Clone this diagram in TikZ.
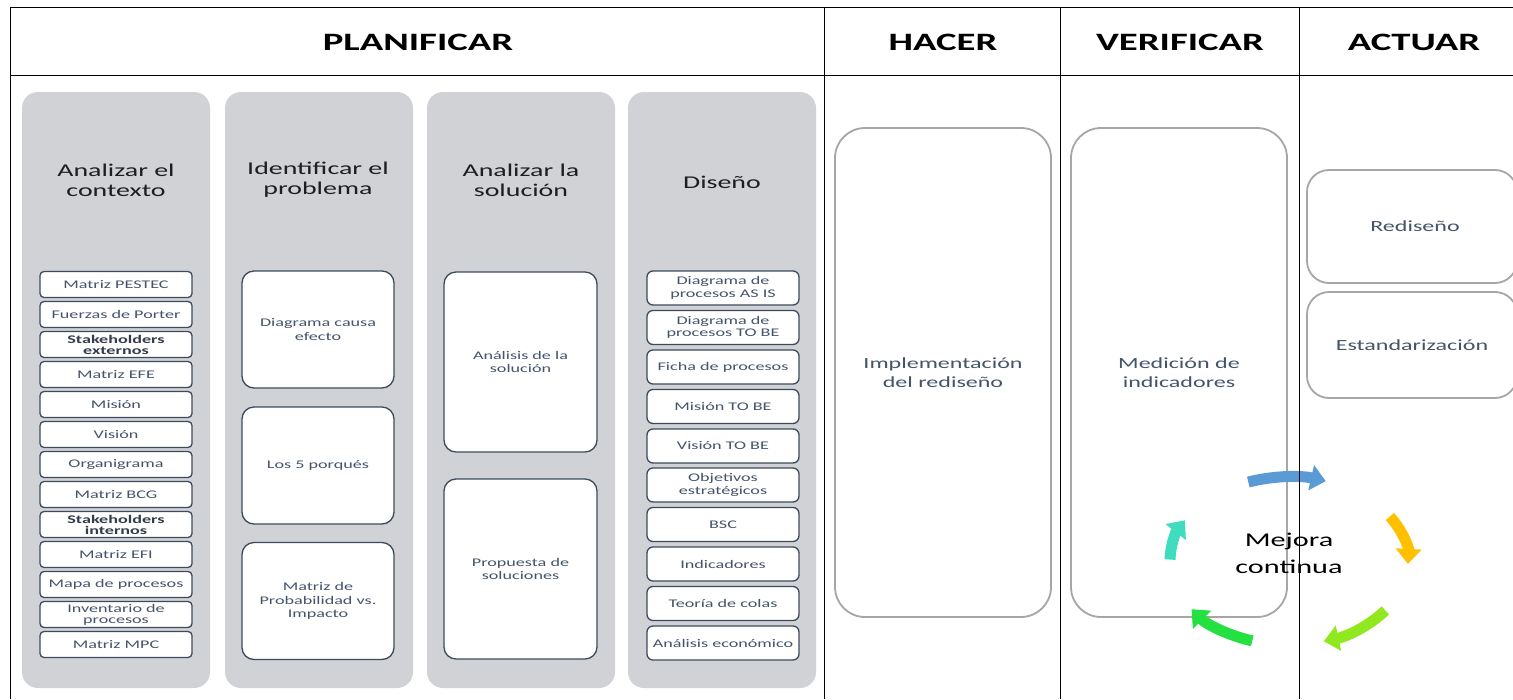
\documentclass[tikz,border=0pt]{standalone}
\usepackage{fontspec}
\setmainfont{Carlito}
\newfontfamily\cf[FakeStretch=1.55]{Carlito}
\usetikzlibrary{arrows.meta}
\definecolor{colgray}{RGB}{208,210,214}
\definecolor{itemline}{RGB}{62,74,92}
\definecolor{itemtext}{RGB}{68,84,106}
\definecolor{itembold}{RGB}{50,60,75}
\definecolor{boxgray}{RGB}{166,166,166}
\definecolor{titletext}{RGB}{30,30,30}
\definecolor{arrBlue}{RGB}{91,155,213}
\definecolor{arrOrange}{RGB}{255,192,0}
\definecolor{arrLime}{RGB}{146,232,30}
\definecolor{arrGreen}{RGB}{36,224,64}
\definecolor{arrTeal}{RGB}{64,220,192}
\tikzset{
  framel/.style={draw=black,line width=1.6pt},
  headtxt/.style={font=\cf\bfseries\fontsize{25}{28}\selectfont,text=black,inner sep=0},
  graycol/.style={fill=colgray,rounded corners=16pt,minimum width=188pt,minimum height=596pt,inner sep=0},
  coltitle/.style={font=\cf\fontsize{18}{20}\selectfont,text=titletext,align=center,inner sep=0},
  itembox/.style={draw=itemline,line width=1.3pt,fill=white,rounded corners=4pt,minimum width=152pt,minimum height=26pt,inner sep=0,align=center,text=itemtext,font=\cf\fontsize{11.7}{12}\selectfont},
  itembold/.style={itembox,text=itembold,font=\cf\bfseries\fontsize{11.7}{11}\selectfont},
  dsbox/.style={itembox,rounded corners=6pt,minimum height=34pt,font=\cf\fontsize{11.7}{12.5}\selectfont},
  bigbox/.style={draw=itemline,line width=1.3pt,fill=white,rounded corners=12pt,minimum width=152pt,inner sep=0,align=center,text=itemtext,font=\cf\fontsize{11.7}{13.3}\selectfont},
  rbox/.style={draw=boxgray,line width=1.8pt,fill=white,rounded corners=30pt,inner sep=0,align=center,text=itemtext,font=\cf\fontsize{15.5}{19}\selectfont},
  cycarrow/.style={line width=11pt,-{Triangle[width=25pt,length=15pt]}},
}
\begin{document}
\begin{tikzpicture}[x=1pt,y=-1pt]
\useasboundingbox (0,0) rectangle (1513,699);
\clip (0,0) rectangle (1513,699);
\fill[white] (0,0) rectangle (1513,699);

% gray columns
\node[graycol] (c1) at (116,390) {};
\node[graycol] (c2) at (319,390) {};
\node[graycol] (c3) at (521,390) {};
\node[graycol] (c4) at (722,390) {};

% column titles
\node[coltitle] (t1) at (116,180) {Analizar el\\contexto};
\node[coltitle] (t2) at (318,180) {Identificar el\\problema};
\node[coltitle] (t3) at (521,180) {Analizar la\\solución};
\node[coltitle] (t4) at (722,182) {Diseño};

% column 1 items
\node[itembox]  (a1)  at (116,284.5) {Matriz PESTEC};
\node[itembox]  (a2)  at (116,314.5) {Fuerzas de Porter};
\node[itembold] (a3)  at (116,344.5) {Stakeholders\\externos};
\node[itembox]  (a4)  at (116,374.5) {Matriz EFE};
\node[itembox]  (a5)  at (116,404.5) {Misión};
\node[itembox]  (a6)  at (116,434.5) {Visión};
\node[itembox]  (a7)  at (116,464.5) {Organigrama};
\node[itembox]  (a8)  at (116,494.5) {Matriz BCG};
\node[itembold] (a9)  at (116,524.5) {Stakeholders\\internos};
\node[itembox]  (a10) at (116,554.5) {Matriz EFI};
\node[itembox]  (a11) at (116,584.5) {Mapa de procesos};
\node[itembox,font=\cf\fontsize{11.7}{11}\selectfont] (a12) at (116,614.5) {Inventario de\\procesos};
\node[itembox]  (a13) at (116,644.5) {Matriz MPC};

% column 2 boxes
\node[bigbox,minimum height=117pt] (b1) at (318,329.5) {Diagrama causa\\efecto};
\node[bigbox,minimum height=117pt] (b2) at (318,465.5) {Los 5 porqués};
\node[bigbox,minimum height=117pt] (b3) at (318,601) {Matriz de\\Probabilidad vs.\\Impacto};

% column 3 boxes
\node[bigbox,minimum height=180pt,minimum width=153pt] (s1) at (520.5,362) {Análisis de la\\solución};
\node[bigbox,minimum height=180pt,minimum width=153pt] (s2) at (520.5,569) {Propuesta de\\soluciones};

% column 4 items
\node[dsbox] (d1)  at (723,288)   {Diagrama de\\procesos AS IS};
\node[dsbox] (d2)  at (723,327.5) {Diagrama de\\procesos TO BE};
\node[dsbox] (d3)  at (723,367)   {Ficha de procesos};
\node[dsbox] (d4)  at (723,406.5) {Misión TO BE};
\node[dsbox] (d5)  at (723,446)   {Visión TO BE};
\node[dsbox] (d6)  at (723,485)   {Objetivos\\estratégicos};
\node[dsbox] (d7)  at (723,524.5) {BSC};
\node[dsbox] (d8)  at (723,564)   {Indicadores};
\node[dsbox] (d9)  at (723,603.5) {Teoría de colas};
\node[dsbox] (d10) at (723,643)   {Análisis económico};

% right side boxes
\node[rbox,minimum width=216pt,minimum height=489pt] (h1) at (943,372.5) {Implementación\\del rediseño};
\node[rbox,minimum width=216pt,minimum height=489pt] (v1) at (1179,372.5) {Medición de\\indicadores};
\node[rbox,minimum width=210pt,minimum height=113pt,rounded corners=22pt] (r1) at (1412,226.5) {\hspace*{6pt}Rediseño};
\node[rbox,minimum width=210pt,minimum height=106pt,rounded corners=22pt] (r2) at (1412,345) {Estandarización};

% improvement cycle
\coordinate (cyc) at (1289,561);
\draw[cycarrow,arrBlue]   (cyc) ++(-110:119 and 84) arc[start angle=-110,end angle=-72,x radius=119,y radius=84];
\draw[cycarrow,arrOrange] (cyc) ++(-32:119 and 84) arc[start angle=-32,end angle=2,x radius=119,y radius=84];
\draw[cycarrow,arrLime]   (cyc) ++(36:119 and 84) arc[start angle=36,end angle=73,x radius=119,y radius=84];
\draw[cycarrow,arrGreen]  (cyc) ++(108:119 and 84) arc[start angle=108,end angle=145,x radius=119,y radius=84];
\draw[cycarrow,arrTeal]   (cyc) ++(181:119 and 84) arc[start angle=181,end angle=209,x radius=119,y radius=84];
\node[font=\cf\fontsize{19.5}{27}\selectfont,align=center,text=black,inner sep=0] (mc) at (1289,553) {Mejora\\continua};

% headers
\node[headtxt] (hp) at (418,42) {PLANIFICAR};
\node[headtxt] (hh) at (943,42) {HACER};
\node[headtxt] (hv) at (1180,42) {VERIFICAR};
\node[headtxt] (ha) at (1414,42) {ACTUAR};

% frame lines
\draw[framel] (10.5,699) -- (10.5,7.5) -- (1513,7.5);
\draw[framel] (10.5,75.5) -- (1513,75.5);
\draw[framel] (824.5,7.5) -- (824.5,699);
\draw[framel] (1060.5,7.5) -- (1060.5,699);
\draw[framel] (1299.5,7.5) -- (1299.5,699);
\end{tikzpicture}
\end{document}
